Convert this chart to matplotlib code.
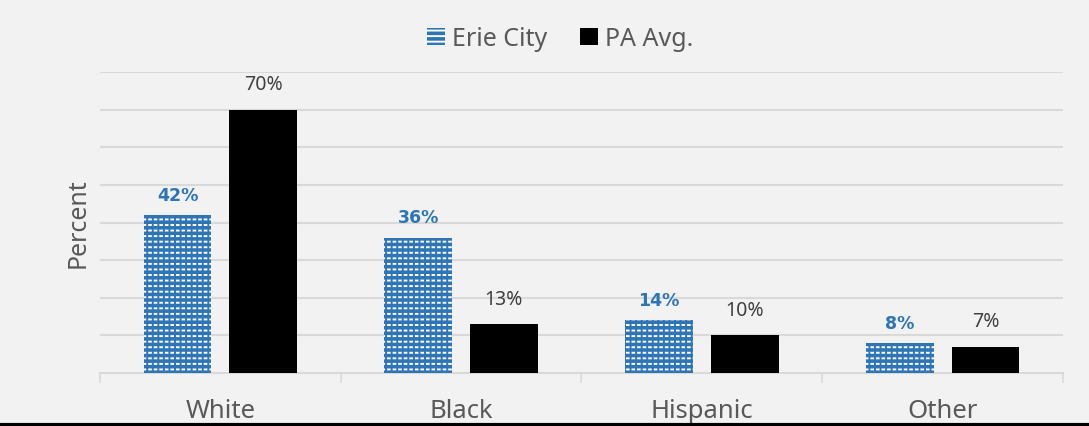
import matplotlib.pyplot as plt
import numpy as np
from matplotlib.patches import Patch

categories = ["White", "Black", "Hispanic", "Other"]
erie_city = [42, 36, 14, 8]
pa_avg = [70, 13, 10, 7]

blue = "#2e75b6"
gray_txt = "#595959"
grid_col = "#d9d9d9"

plt.rcParams["font.family"] = ["Noto Sans", "DejaVu Sans"]
plt.rcParams["hatch.linewidth"] = 1.4

fig = plt.figure(figsize=(10.89, 4.27), dpi=100, facecolor="#f2f2f2")
ax = fig.add_axes([0.0918, 0.1241, 0.8843, 0.7049])
ax.set_facecolor("#f2f2f2")

x = np.arange(len(categories))
w = 0.282
off = 0.178

# Erie City: blue with white dashed pattern
ax.bar(x - off, erie_city, w, color=blue, edgecolor="white", hatch="---", lw=0, zorder=3)
ax.bar(x - off, erie_city, w, facecolor="none", edgecolor=blue, hatch="|||", lw=0, zorder=4)
ax.bar(x + off, pa_avg, w, color="black", lw=0, zorder=3)

for xi, v in zip(x, erie_city):
    ax.annotate(f"{v}%", (xi - off, v), xytext=(0, 8), textcoords="offset points",
                ha="center", va="bottom", fontsize=12.5, fontweight="bold", color=blue,
                family="DejaVu Sans")
for xi, v in zip(x, pa_avg):
    ax.annotate(f"{v}%", (xi + off, v), xytext=(0, 11), textcoords="offset points",
                ha="center", va="bottom", fontsize=14, color="#404040")

ax.set_ylim(0, 80)
ax.set_xlim(-0.5, 3.5)
ax.set_yticks(np.arange(10, 81, 10))
ax.yaxis.grid(True, color=grid_col, lw=1.5, zorder=0)
ax.tick_params(axis="y", length=0, labelleft=False)

ax.set_xticks(x)
ax.set_xticklabels(categories, fontsize=18.5, color=gray_txt)
ax.tick_params(axis="x", length=0, pad=18)
ax.set_xticks(np.arange(-0.5, 4, 1), minor=True)
ax.tick_params(axis="x", which="minor", length=7, color=grid_col, width=1.2)

for s in ["top", "right", "left"]:
    ax.spines[s].set_visible(False)
ax.spines["bottom"].set_color(grid_col)
ax.spines["bottom"].set_linewidth(1.5)

ax.set_ylabel("Percent", fontsize=18, color=gray_txt, labelpad=7)

handles = [Patch(facecolor=blue, edgecolor="white", hatch="---", lw=0),
           Patch(facecolor="black", lw=0)]
ax.legend(handles, ["Erie City", "PA Avg."], loc="center", bbox_to_anchor=(0.478, 1.11),
          ncol=2, frameon=False, fontsize=18, labelcolor=gray_txt,
          handlelength=0.7, handleheight=0.7, handletextpad=0.3, columnspacing=1.3)

# bottom border of the original screenshot
fig.add_artist(plt.Line2D([0, 1], [0.003, 0.003], color="black", lw=3, transform=fig.transFigure))

fig.savefig("out.png", dpi=100, facecolor=fig.get_facecolor())
